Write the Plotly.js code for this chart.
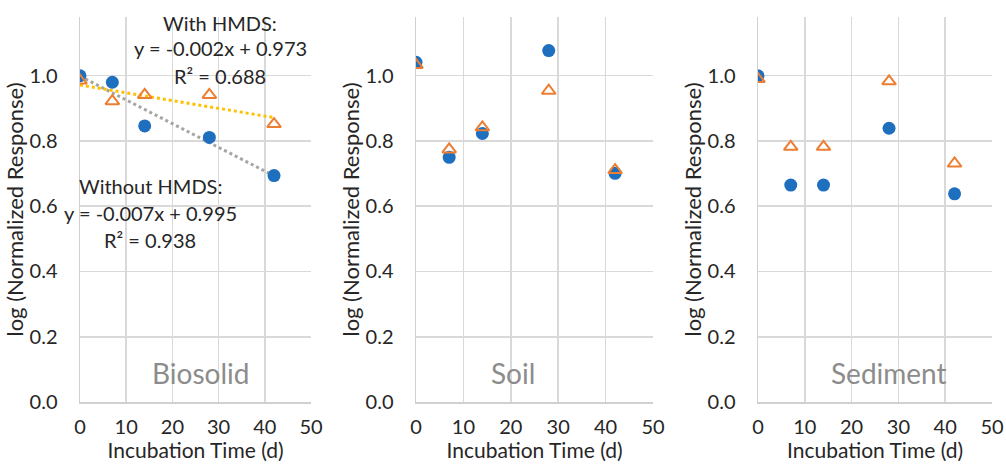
<!DOCTYPE html>
<html>
<head>
<meta charset="utf-8">
<script src="https://cdn.plot.ly/plotly-3.0.1.min.js"></script>
<style>html,body{margin:0;padding:0;background:#fff;}#chart{width:1006px;height:464px;}</style>
</head>
<body>
<div id="chart"></div>
<script>
// Incubation time (days)
const days = [0, 7, 14, 28, 42];
// log(Normalized Response) - Without HMDS (blue circles)
const biosolidWithout = [1.0, 0.98, 0.846, 0.811, 0.694];
const soilWithout = [1.041, 0.750, 0.823, 1.077, 0.701];
const sedimentWithout = [1.0, 0.665, 0.665, 0.839, 0.638];
// log(Normalized Response) - With HMDS (orange triangles)
const biosolidWith = [0.985, 0.922, 0.941, 0.941, 0.852];
const soilWith = [1.033, 0.774, 0.842, 0.954, 0.711];
const sedimentWith = [0.990, 0.782, 0.782, 0.983, 0.731];
const panelNames = ["Biosolid", "Soil", "Sediment"];
const xTicks = [0, 10, 20, 30, 40, 50];
const yTicks = [0.0, 0.2, 0.4, 0.6, 0.8, 1.0];

function linfit(x, y) {
  const n = x.length;
  const mx = x.reduce((a, b) => a + b, 0) / n;
  const my = y.reduce((a, b) => a + b, 0) / n;
  let sxy = 0, sxx = 0;
  for (let i = 0; i < n; i++) { sxy += (x[i] - mx) * (y[i] - my); sxx += (x[i] - mx) ** 2; }
  const m = sxy / sxx;
  return { m: m, b: my - m * mx };
}

const FONT = "Lato, 'Open Sans', sans-serif";
const TXT = "#262626";
const BLUE = "#1f6fbf", ORANGE = "#ed7d31", GOLD = "#ffc000", GREY = "#a5a5a5";
const traces = [];
const withoutSets = [biosolidWithout, soilWithout, sedimentWithout];
const withSets = [biosolidWith, soilWith, sedimentWith];

// Linear trendlines (Biosolid only), least squares fit of the data
const fW = linfit(days, biosolidWithout);
const fH = linfit(days, biosolidWith);
const xEnds = [days[0], days[days.length - 1]];
traces.push({ x: xEnds, y: xEnds.map(v => fW.m * v + fW.b), mode: "lines", xaxis: "x", yaxis: "y",
  line: { color: GREY, width: 3, dash: "dot" }, hoverinfo: "skip", showlegend: false });
traces.push({ x: xEnds, y: xEnds.map(v => fH.m * v + fH.b), mode: "lines", xaxis: "x", yaxis: "y",
  line: { color: GOLD, width: 3, dash: "dot" }, hoverinfo: "skip", showlegend: false });

for (let i = 0; i < 3; i++) {
  const xa = i === 0 ? "x" : "x" + (i + 1);
  const ya = i === 0 ? "y" : "y" + (i + 1);
  traces.push({ x: days, y: withoutSets[i], mode: "markers", xaxis: xa, yaxis: ya, name: "Without HMDS",
    marker: { symbol: "circle", size: 13, color: BLUE }, showlegend: false });
  traces.push({ x: days, y: withSets[i], mode: "markers", xaxis: xa, yaxis: ya, name: "With HMDS",
    marker: { symbol: "triangle-up-open", size: 12, color: ORANGE, line: { width: 2, color: ORANGE } }, showlegend: false });
}

const domains = [[80 / 1006, 311 / 1006], [416 / 1006, 653 / 1006], [758 / 1006, 992 / 1006]];
const yDom = [62 / 464, 447 / 464];
const layout = {
  width: 1006, height: 464,
  margin: { l: 0, r: 0, t: 0, b: 0 },
  paper_bgcolor: "#fff", plot_bgcolor: "#fff",
  font: { family: FONT, size: 20, color: TXT },
  showlegend: false,
  annotations: []
};
for (let i = 0; i < 3; i++) {
  const sx = i === 0 ? "" : String(i + 1);
  layout["xaxis" + sx] = {
    domain: domains[i], anchor: "y" + sx, range: [0, 50],
    tickvals: xTicks, ticktext: xTicks.map(String),
    showgrid: true, gridcolor: "#d9d9d9", gridwidth: 1.5,
    zeroline: false, showline: true, linecolor: "#d0d0d0", linewidth: 1.5,
    ticks: "outside", ticklen: 6, tickcolor: "rgba(0,0,0,0)",
    tickfont: { family: FONT, size: 20, color: TXT },
    title: { text: "Incubation Time (d)", standoff: 3, font: { family: FONT, size: 21, color: TXT } },
    fixedrange: true
  };
  layout["yaxis" + sx] = {
    domain: yDom, anchor: "x" + sx, range: [0, 1.18],
    tickvals: yTicks, ticktext: yTicks.map(v => v.toFixed(1)),
    showgrid: true, gridcolor: "#d9d9d9", gridwidth: 1.5,
    zeroline: false, showline: true, linecolor: "#d0d0d0", linewidth: 1.5,
    ticks: "outside", ticklen: 17, tickcolor: "rgba(0,0,0,0)",
    tickfont: { family: FONT, size: 20, color: TXT },
    title: { text: "log (Normalized Response)", standoff: 0, font: { family: FONT, size: 22, color: TXT } },
    fixedrange: true
  };
  layout.annotations.push({
    text: panelNames[i], xref: "x" + sx, yref: "y" + sx,
    x: [26, 20.5, 28][i], y: 0.09, showarrow: false,
    font: { family: FONT, size: 28, color: "#8c8c8c" }
  });
}
const eqLines = [
  ["With HMDS:", 30.4, 1.161],
  ["y = -0.002x + 0.973", 30.4, 1.085],
  ["R² = 0.688", 30.4, 0.999],
  ["Without HMDS:", 15.2, 0.662],
  ["y = -0.007x + 0.995", 15.2, 0.579],
  ["R² = 0.938", 15.2, 0.496]
];
eqLines.forEach(l => layout.annotations.push({
  text: l[0], xref: "x", yref: "y", x: l[1], y: l[2], showarrow: false,
  font: { family: FONT, size: 20, color: TXT }
}));

Plotly.newPlot("chart", traces, layout, { displayModeBar: false, staticPlot: true });
</script>
</body>
</html>
